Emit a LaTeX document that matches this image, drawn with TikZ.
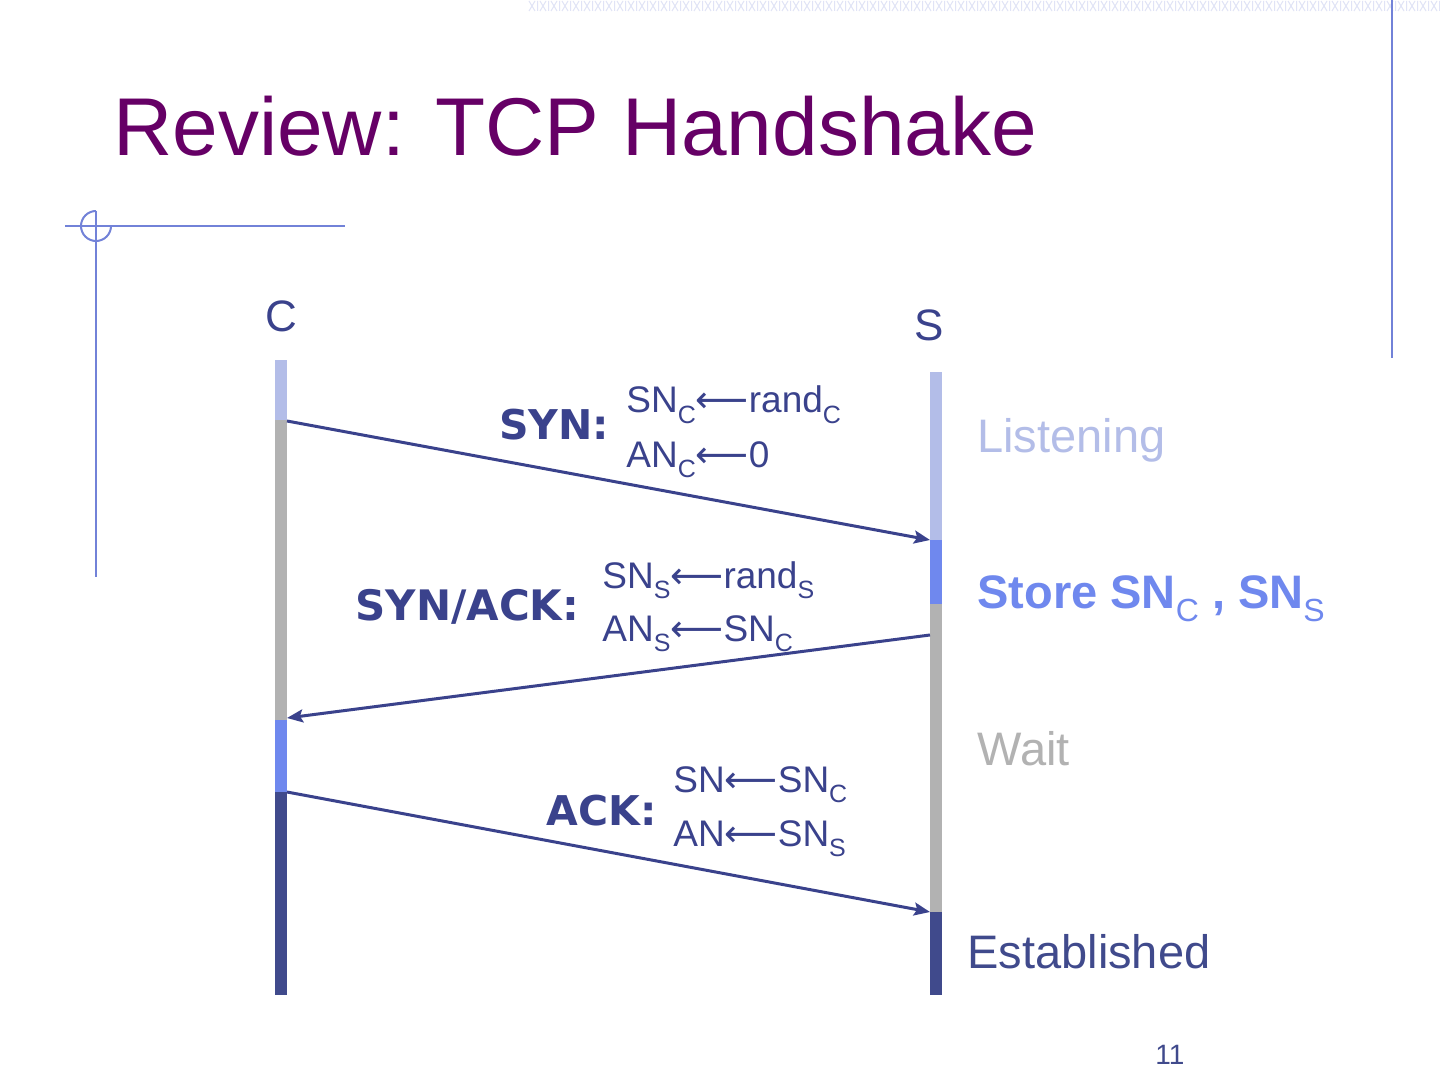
\documentclass[tikz,border=0pt]{standalone}
\usepackage{fontspec}
\setmainfont{Liberation Sans}
\newfontfamily\vfont{DejaVu Sans}
\newfontfamily\arrowfont{DejaVu Sans}
\usetikzlibrary{arrows.meta}
\definecolor{navy}{HTML}{3A428C}
\definecolor{lav}{HTML}{B3BDE8}
\definecolor{mblue}{HTML}{6F88EE}
\definecolor{gry}{HTML}{B2B2B2}
\definecolor{dark}{HTML}{404A8C}
\definecolor{titlec}{HTML}{660066}
\definecolor{deco}{HTML}{7282D8}
\definecolor{hatch}{HTML}{E0E3F6}
\newcommand\lo[1]{\raisebox{-0.28em}{\fontsize{12.5}{12.5}\selectfont #1}}
\newcommand\lob[1]{\raisebox{-0.28em}{\mdseries\fontsize{16}{16}\selectfont #1}}
\newcommand\la{{\arrowfont\char"27F5}}
\tikzset{
  txt/.style={inner sep=0pt, anchor=base west},
  small/.style={txt, text=navy, font=\fontsize{18.5}{22}\selectfont},
  msg/.style={txt, text=navy, font=\vfont\bfseries\fontsize{20.5}{24}\selectfont},
  state/.style={txt, font=\fontsize{23.5}{28}\selectfont},
  arr/.style={draw=navy, line width=1.5pt, -{Stealth[length=8pt,width=6.5pt,inset=1.5pt]}},
}
\begin{document}
\begin{tikzpicture}[x=0.5pt,y=-0.5pt]
\useasboundingbox (0,0) rectangle (1440,1080);
\fill[white] (0,0) rectangle (1440,1080);
% top hatch strip
\foreach \i in {0,...,82}{
  \pgfmathsetmacro\xx{529+11*\i}
  \draw[hatch, line width=0.5pt] (\xx,1) -- (\xx+6,11) (\xx+6,1) -- (\xx,11) (\xx+8.5,1) -- (\xx+8.5,11);
}
\draw[deco, line width=1pt] (1392,0) -- (1392,358);
% left decoration
\draw[deco, line width=0.8pt] (65,226) -- (345,226);
\draw[deco, line width=1pt] (96,211) arc[start angle=270, end angle=0, radius=15];
\draw[deco, line width=1pt] (96,211) -- (96,577);
% title
\node[txt, text=titlec, font=\fontsize{41}{48}\selectfont] (title) at (113,156) {Review: TCP Handshake};
% endpoints
\node[inner sep=0pt, text=navy, font=\fontsize{22}{26}\selectfont] (C) at (281,316) {C};
\node[inner sep=0pt, text=navy, font=\fontsize{22}{26}\selectfont] (S) at (929,325) {S};
% client bar
\fill[lav] (275,360) rectangle (287,420);
\fill[gry] (275,420) rectangle (287,720);
\fill[mblue] (275,720) rectangle (287,792);
\fill[dark] (275,792) rectangle (287,995);
% server bar
\fill[lav] (930,372) rectangle (942,540);
\fill[mblue] (930,540) rectangle (942,604);
\fill[gry] (930,604) rectangle (942,912);
\fill[dark] (930,912) rectangle (942,995);
% connector ends
\coordinate (c1) at (287,421);
\coordinate (s1) at (930,540);
\coordinate (s2) at (930,635);
\coordinate (c2) at (287,718);
\coordinate (c3) at (287,792);
\coordinate (s3) at (930,912);
\draw[arr] (c1) -- (s1);
\draw[arr] (s2) -- (c2);
\draw[arr] (c3) -- (s3);
% message labels
\node[msg] (syn) at (499,440) {SYN:};
\node[small] (syn1) at (626,413) {SN\lo{C}\la rand\lo{C}};
\node[small] (syn2) at (626,467) {AN\lo{C}\la 0};
\node[msg, font=\vfont\bfseries\fontsize{21}{24}\selectfont] (synack) at (355,620) {SYN/ACK:};
\node[small] (sa1) at (602,588) {SN\lo{S}\la rand\lo{S}};
\node[small] (sa2) at (602,641) {AN\lo{S}\la SN\lo{C}};
\node[msg] (ack) at (546,825) {ACK:};
\node[small] (ack1) at (673,792) {SN\la SN\lo{C}};
\node[small] (ack2) at (673,846) {AN\la SN\lo{S}};
% states
\node[state, text=lav] (listen) at (977,452) {Listening};
\node[state, text=mblue, font=\bfseries\fontsize{23.5}{28}\selectfont] (store) at (977,608) {Store SN\lob{C} , SN\lob{S}};
\node[state, text=gry] (wait) at (977,765) {Wait};
\node[state, text=dark] (est) at (967,968) {Established};
\node[txt, text=dark, font=\fontsize{14}{16}\selectfont] (pg) at (1155,1064) {11};
\end{tikzpicture}
\end{document}
